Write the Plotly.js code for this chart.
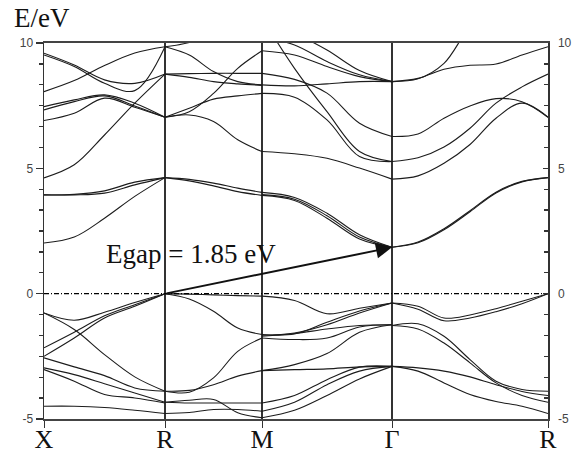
<!DOCTYPE html>
<html><head><meta charset="utf-8">
<script src="https://cdn.plot.ly/plotly-3.0.1.min.js"></script>
<style>html,body{margin:0;padding:0;background:#fff}#chart{width:573px;height:457px}</style>
</head><body><div id="chart"></div>
<script>
// k-path
const kLabels = ['X', 'R', 'M', 'Γ', 'R'];
const kNodes = [0, 1.21, 2.18, 3.48, 5.04];

// energies (eV) sampled evenly along each segment
const bandsXR = [
  [-0.77,-1.06,-0.74,-0.35,0],
  [-2.16,-1.54,-0.88,-0.44,0],
  [-2.50,-1.77,-0.97,-0.50,0],
  [-0.77,-1.43,-2.43,-3.32,-3.89],
  [-2.56,-2.92,-3.27,-3.76,-3.89],
  [-2.96,-3.23,-3.59,-3.96,-4.33],
  [-3.03,-3.49,-4.02,-4.16,-4.36],
  [-4.49,-4.49,-4.54,-4.65,-4.78],
  [2.02,2.26,3.01,3.88,4.63],
  [3.94,3.94,4.01,4.34,4.63],
  [3.94,3.96,4.10,4.45,4.63],
  [4.62,5.14,6.33,7.60,8.76],
  [9.59,9.12,8.53,8.39,8.76],
  [9.52,9.06,8.39,8.10,9.85],
  [8.06,8.50,9.10,9.60,9.85],
  [7.46,7.73,7.93,7.60,7.04],
  [7.33,7.66,7.89,7.49,7.04],
  [6.91,7.20,7.80,7.44,7.04]
];
const bandsRM = [
  [0,-0.02,-0.05,-0.08,-0.10],
  [0,-0.21,-0.70,-1.37,-1.63],
  [-3.89,-3.93,-3.36,-2.30,-1.77],
  [-3.89,-3.86,-3.63,-3.29,-3.07],
  [-4.33,-4.25,-4.22,-4.75,-4.95],
  [-4.33,-4.36,-4.36,-4.36,-4.36],
  [-4.78,-4.74,-4.62,-4.62,-4.69],
  [4.63,4.56,4.41,4.21,4.04],
  [4.63,4.50,4.30,4.07,3.92],
  [7.04,7.13,6.87,6.14,5.67],
  [7.04,7.40,7.76,7.89,7.99],
  [7.04,7.26,7.99,8.99,9.69],
  [8.76,8.78,8.79,8.79,8.79],
  [8.76,8.63,8.46,8.37,8.31],
  [9.85,9.52,8.86,8.46,8.33],
  [9.85,10.02,10.40,10.70,10.95]
];
const bandsMG = [
  [-0.10,-0.27,-0.80,-0.58,-0.37],
  [-1.63,-1.61,-1.14,-0.69,-0.37],
  [-1.66,-1.57,-1.24,-0.77,-0.37],
  [-1.77,-1.83,-1.77,-1.33,-1.24],
  [-1.70,-1.59,-1.41,-1.27,-1.24],
  [-3.07,-2.83,-2.39,-1.54,-1.24],
  [-3.07,-3.03,-3.00,-2.92,-2.90],
  [-4.36,-4.06,-3.43,-2.93,-2.90],
  [-4.69,-4.33,-3.63,-3.09,-2.90],
  [-4.95,-4.65,-4.06,-3.40,-2.90],
  [4.04,3.84,3.21,2.35,1.85],
  [3.95,3.77,3.11,2.26,1.85],
  [3.92,3.72,3.01,2.18,1.85],
  [9.69,9.52,9.06,8.66,8.46],
  [10.95,10.39,9.72,8.90,8.46],
  [10.25,9.92,9.26,8.73,8.46],
  [11.00,8.99,7.26,5.67,5.27],
  [7.99,7.84,6.93,5.47,5.27],
  [8.79,8.55,8.00,6.80,6.27],
  [8.33,8.29,8.37,8.46,8.46],
  [5.67,5.58,5.40,5.01,4.57]
];
const bandsGR = [
  [-0.37,-0.50,-0.97,-0.85,-0.60,-0.30,0],
  [-0.37,-0.62,-1.08,-0.97,-0.72,-0.40,0],
  [-1.27,-1.20,-1.70,-2.63,-3.49,-3.82,-3.89],
  [-1.27,-1.41,-1.97,-2.76,-3.56,-4.06,-4.33],
  [-2.90,-2.96,-3.09,-3.32,-3.63,-3.90,-4.06],
  [-2.90,-3.09,-3.56,-4.02,-4.30,-4.49,-4.78],
  [1.85,2.06,2.59,3.31,4.05,4.48,4.63],
  [1.85,2.03,2.55,3.27,4.02,4.46,4.63],
  [4.57,4.70,5.20,5.95,7.00,7.60,7.04],
  [5.27,5.42,5.85,6.60,7.60,8.25,8.76],
  [6.27,6.37,7.00,7.49,7.78,7.66,7.04],
  [8.46,8.59,8.95,9.11,9.16,9.52,9.85],
  [8.46,8.57,9.19,10.65,11.50,12.00,12.20]
];
const yTicks = [-5, 0, 5, 10];
const fermiLevel = 0;
const gapValue = 1.85;
const gapLabel = 'Egap = 1.85 eV';
const yTitle = 'E/eV';

const segments = [
  {a: 0, b: 1, bands: bandsXR},
  {a: 1, b: 2, bands: bandsRM},
  {a: 2, b: 3, bands: bandsMG},
  {a: 3, b: 4, bands: bandsGR}
];

const lineColor = '#1c1c1c';
const traces = [];
segments.forEach(seg => {
  const k0 = kNodes[seg.a], k1 = kNodes[seg.b];
  seg.bands.forEach(band => {
    const n = band.length;
    const xs = band.map((_, i) => k0 + (k1 - k0) * i / (n - 1));
    traces.push({
      type: 'scatter', mode: 'lines', x: xs, y: band,
      line: {color: lineColor, width: 1.1, shape: 'spline', smoothing: 1},
      hoverinfo: 'skip'
    });
  });
});
// Fermi level (dash-dot), on the mirrored right axis
traces.push({
  type: 'scatter', mode: 'lines', x: [kNodes[0], kNodes[kNodes.length - 1]], y: [fermiLevel, fermiLevel],
  yaxis: 'y2', line: {color: '#000', width: 1.2, dash: '5px,2px,1px,2px'}, hoverinfo: 'skip'
});

const serif = 'Liberation Serif, Times New Roman, serif';
const sans = 'Liberation Sans, Arial, sans-serif';
const yCommon = {
  range: [-5, 10], tickmode: 'array', tickvals: yTicks, ticktext: yTicks.map(String),
  showgrid: false, zeroline: false, showline: true, linecolor: '#333', linewidth: 1.5,
  tickcolor: '#333', tickwidth: 1.3,
  tickfont: {family: sans, size: 12, color: '#444'},
  fixedrange: true
};

const layout = {
  width: 573, height: 457,
  margin: {l: 44, r: 25, t: 43, b: 38},
  paper_bgcolor: '#fff', plot_bgcolor: '#fff',
  showlegend: false,
  xaxis: {
    range: [kNodes[0], kNodes[kNodes.length - 1]],
    tickmode: 'array', tickvals: kNodes, ticktext: kLabels,
    ticks: 'outside', ticklen: 7, tickcolor: '#333', ticklabelstandoff: -11,
    tickfont: {family: serif, size: 26, color: '#111'},
    showgrid: true, gridcolor: '#333', gridwidth: 1.2,
    showline: true, mirror: true, linecolor: '#444', linewidth: 2,
    zeroline: false, fixedrange: true
  },
  yaxis: Object.assign({}, yCommon, {
    side: 'left', ticks: 'outside', ticklen: 7,
    minor: {tickmode: 'linear', tick0: 0, dtick: 5 / 6, ticks: 'outside', ticklen: 4, tickcolor: '#333', showgrid: false}
  }),
  yaxis2: Object.assign({}, yCommon, {
    overlaying: 'y', side: 'right', anchor: 'x', ticks: 'inside', ticklen: 5, ticklabelstandoff: 6,
    minor: {tickmode: 'linear', tick0: 0, dtick: 5 / 6, ticks: 'inside', ticklen: 4, tickcolor: '#333', showgrid: false}
  }),
  annotations: [
    {
      xref: 'paper', yref: 'paper', x: -0.063, y: 1.066, xanchor: 'left', yanchor: 'middle',
      text: yTitle, showarrow: false, font: {family: serif, size: 27, color: '#111'}
    },
    {
      xref: 'x', yref: 'y', x: kNodes[3], y: gapValue, axref: 'x', ayref: 'y', ax: kNodes[1], ay: fermiLevel,
      text: '', showarrow: true, arrowhead: 2, arrowsize: 1.6, arrowwidth: 2, arrowcolor: '#111', standoff: 0
    },
    {
      xref: 'x', yref: 'y', x: 0.6, y: 1.6, xanchor: 'left', yanchor: 'middle',
      text: gapLabel, showarrow: false, font: {family: serif, size: 27, color: '#111'}
    }
  ]
};

Plotly.newPlot('chart', traces, layout, {staticPlot: true, displayModeBar: false});
</script>
</body></html>
